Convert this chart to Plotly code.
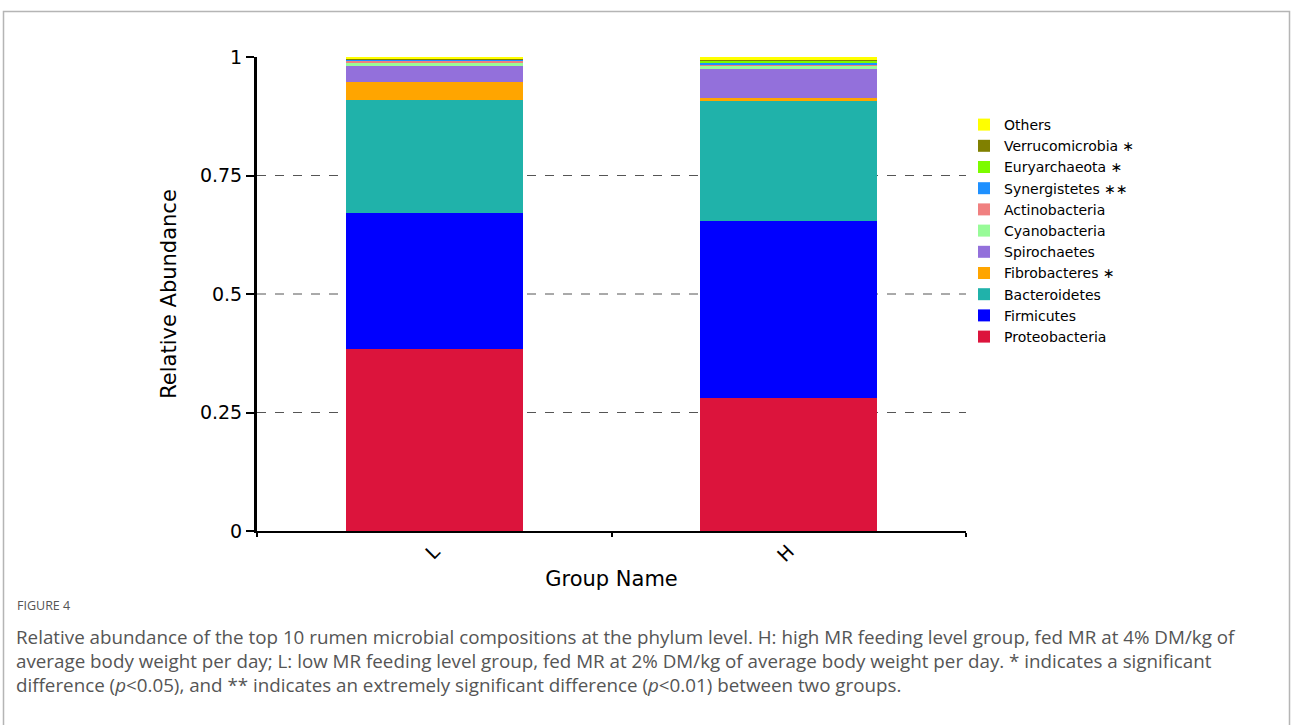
import plotly.graph_objects as go

groups = ["L", "H"]
phyla = ["Proteobacteria", "Firmicutes", "Bacteroidetes", "Fibrobacteres", "Spirochaetes",
         "Cyanobacteria", "Actinobacteria", "Synergistetes", "Euryarchaeota", "Verrucomicrobia", "Others"]
legend_names = ["Proteobacteria", "Firmicutes", "Bacteroidetes", "Fibrobacteres \u2217", "Spirochaetes",
                "Cyanobacteria", "Actinobacteria", "Synergistetes \u2217\u2217", "Euryarchaeota \u2217",
                "Verrucomicrobia \u2217", "Others"]
colors = ["#DC143C", "#0000FF", "#20B2AA", "#FFA500", "#9370DB",
          "#98FB98", "#F08080", "#1E90FF", "#7CFC00", "#808000", "#FFFF00"]

L_values = [0.384, 0.287, 0.238, 0.038, 0.034, 0.006, 0.006, 0.001, 0.001, 0.001, 0.004]
H_values = [0.281, 0.373, 0.253, 0.006, 0.063, 0.004, 0.005, 0.004, 0.003, 0.002, 0.006]

y_ticks = [0, 0.25, 0.5, 0.75, 1]
y_tick_text = ["0", "0.25", "0.5", "0.75", "1"]
grid_values = [0.25, 0.5, 0.75]

caption_title = "FIGURE 4"
caption_lines = [
    "Relative abundance of the top 10 rumen microbial compositions at the phylum level. H: high MR feeding level group, fed MR at 4% DM/kg of",
    "average body weight per day; L: low MR feeding level group, fed MR at 2% DM/kg of average body weight per day. * indicates a significant",
    "difference (<i>p</i>&lt;0.05), and ** indicates an extremely significant difference (<i>p</i>&lt;0.01) between two groups.",
]

W, H = 1295, 725
# plot area in page pixels
PL, PR, PT, PB = 257, 966, 57, 531

def px_x(x):
    return (x - PL) / (PR - PL)

def px_y(y):
    return (PB - y) / (PB - PT)

fig = go.Figure()
for i, name in enumerate(phyla):
    fig.add_trace(go.Bar(
        x=groups, y=[L_values[i], H_values[i]], name=legend_names[i],
        marker=dict(color=colors[i], line=dict(width=0)), width=0.5,
    ))

shapes = []
for g in grid_values:
    shapes.append(dict(type="line", xref="paper", yref="y", x0=0, x1=1, y0=g, y1=g,
                       line=dict(color="#555555", width=1, dash="dash"), layer="below"))
# outer frame
shapes.append(dict(type="rect", xref="paper", yref="paper",
                   x0=px_x(3.5), x1=px_x(1289.5), y0=px_y(740), y1=px_y(11.5),
                   line=dict(color="#b5b5b5", width=1.5), fillcolor="rgba(0,0,0,0)", layer="below"))

annotations = [dict(text=caption_title, xref="paper", yref="paper", x=px_x(15), y=px_y(605),
                    xanchor="left", yanchor="middle", showarrow=False,
                    font=dict(family="Open Sans", size=12.5, color="#555555"))]
for k, line in enumerate(caption_lines):
    annotations.append(dict(text=line, xref="paper", yref="paper", x=px_x(14), y=px_y(637 + 24 * k),
                            xanchor="left", yanchor="middle", showarrow=False,
                            font=dict(family="Open Sans", size=18.8, color="#555555")))

fig.update_layout(
    width=W, height=H,
    margin=dict(l=PL, r=W - PR, t=PT, b=H - PB, autoexpand=False),
    paper_bgcolor="white", plot_bgcolor="white",
    barmode="stack", bargap=0.5,
    font=dict(family="DejaVu Sans", color="black"),
    showlegend=True,
    legend=dict(traceorder="reversed", x=px_x(964), y=px_y(109), xanchor="left", yanchor="top",
                font=dict(size=14, color="black"), itemwidth=30, bgcolor="rgba(0,0,0,0)"),
    xaxis=dict(range=[-0.5, 1.5], showline=True, linecolor="black", linewidth=2,
               ticks="outside", tickson="boundaries", ticklen=4, tickwidth=2, tickcolor="black",
               tickangle=-45, tickfont=dict(size=19), showgrid=False, zeroline=False,
               title=dict(text="Group Name", font=dict(size=21), standoff=6)),
    yaxis=dict(range=[0, 1], showline=True, linecolor="black", linewidth=3,
               ticks="outside", ticklen=8, tickwidth=2, tickcolor="black",
               tickvals=y_ticks, ticktext=y_tick_text, tickfont=dict(size=19),
               showgrid=False, zeroline=False,
               title=dict(text="Relative Abundance", font=dict(size=21), standoff=18)),
    shapes=shapes, annotations=annotations,
)

fig.write_html("out.html", config={"displayModeBar": False},
               post_script="document.body.style.margin='0';")
